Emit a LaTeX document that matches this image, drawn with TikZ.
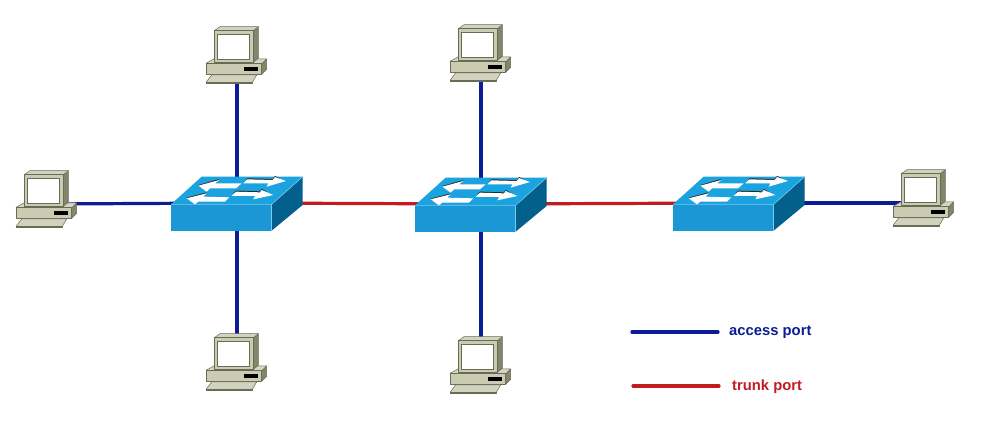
\documentclass[tikz,border=0pt]{standalone}
\usepackage{fontspec}
\setmainfont{Liberation Sans}
\definecolor{swtop}{HTML}{1BA3E0}
\definecolor{swfront}{HTML}{1B97D6}
\definecolor{swside}{HTML}{035F8C}
\definecolor{swedge}{HTML}{7CCBEE}
\definecolor{pcbody}{HTML}{C9CBB3}
\definecolor{pcside}{HTML}{83856C}
\definecolor{pcline}{HTML}{6A6B55}
\definecolor{acblue}{HTML}{0B1C94}
\definecolor{trred}{HTML}{C01C22}
\tikzset{
  x=1pt,y=-1pt,
  anchorpt/.style={inner sep=0pt,minimum size=0pt},
  access/.style={draw=acblue,line width=3.2pt},
  trunk/.style={draw=trred,line width=3.2pt},
  legendline/.style={line width=3.2pt,line cap=round},
  legendtext/.style={font=\bfseries\fontsize{14.8}{16}\selectfont,anchor=west,inner sep=0pt},
  swarrow/.style={fill=white,draw=none},
  swshadow/.style={fill=black!85,draw=none},
  pcpart/.style={draw=pcline,line width=.5pt,line join=round},
  switchicon/.pic={
    \begin{scope}[x=.33333pt,y=-.33333pt,xshift=-77pt,yshift=38pt]
      \fill[swtop] (33,118) -- (125,35) -- (428,35) -- (335,118) -- cycle;
      \fill[swfront] (33,118) rectangle (335,197);
      \fill[swside] (335,118) -- (428,35) -- (428,120) -- (335,197) -- cycle;
      \draw[swedge,line width=.6pt] (33,118) -- (335,118) -- (428,35);
      \draw[swedge,line width=.6pt] (335,118) -- (335,197);
      \fill[swshadow] (115,60) -- (178,42) -- (165,53) -- (120,66) -- cycle;
      \fill[swshadow] (262,40) -- (338,42) -- (345,33) -- (360,40) -- (338,48) -- (255,50) -- cycle;
      \fill[swshadow] (80,98) -- (140,82) -- (130,93) -- (85,104) -- cycle;
      \fill[swshadow] (228,77) -- (300,79) -- (305,72) -- (320,80) -- (300,85) -- (220,85) -- cycle;
      \fill[swarrow] (115,62) -- (178,45) -- (165,55) -- (245,55) -- (228,70) -- (150,70) -- (140,80) -- cycle;
      \fill[swarrow] (378,48) -- (345,36) -- (338,45) -- (262,43) -- (250,55) -- (325,55) -- (320,65) -- cycle;
      \fill[swarrow] (80,100) -- (140,85) -- (130,95) -- (208,97) -- (195,110) -- (115,110) -- (105,118) -- cycle;
      \fill[swarrow] (340,90) -- (305,75) -- (300,82) -- (228,80) -- (215,93) -- (285,93) -- (280,103) -- cycle;
    \end{scope}
  },
  pcicon/.pic={
    \begin{scope}[x=.33333pt,y=-.33333pt,xshift=-42pt,yshift=40pt]
      % base
      \filldraw[pcpart,fill=pcbody!80!white] (33,130) -- (60,115) -- (215,117) -- (200,132) -- cycle;
      \filldraw[pcpart,fill=pcbody] (33,130) rectangle (200,163);
      \filldraw[pcpart,fill=pcside] (200,132) -- (215,117) -- (215,148) -- (200,163) -- cycle;
      \fill[black] (148,142) rectangle (188,152);
      % keyboard
      \filldraw[pcpart,fill=pcbody!85!white] (33,187) -- (50,165) -- (185,165) -- (172,187) -- cycle;
      \filldraw[pcpart,fill=pcside] (33,187) rectangle (172,191);
      % monitor
      \filldraw[pcpart,fill=pcside] (175,32) -- (190,20) -- (190,115) -- (175,127) -- cycle;
      \filldraw[pcpart,fill=pcbody!85!white] (58,32) -- (75,20) -- (190,20) -- (175,32) -- cycle;
      \filldraw[pcpart,fill=pcbody] (58,32) rectangle (175,127);
      \filldraw[draw=pcline,line width=.4pt,fill=white] (68,42) rectangle (162,118);
    \end{scope}
  }
}
\begin{document}
\begin{tikzpicture}
  \useasboundingbox (0,0) rectangle (1005,427);
  \fill[white] (0,0) rectangle (1005,427);
  % device anchors
  \node[anchorpt] (s1) at (237,203) {};
  \node[anchorpt] (s2) at (481,204) {};
  \node[anchorpt] (s3) at (739,203) {};
  \node[anchorpt] (pcT1) at (237,60) {};
  \node[anchorpt] (pcT2) at (481,58) {};
  \node[anchorpt] (pcL) at (47,204) {};
  \node[anchorpt] (pcR) at (924,203) {};
  \node[anchorpt] (pcB1) at (237,367) {};
  \node[anchorpt] (pcB2) at (481,370) {};
  % connectors
  \draw[access] (pcT1) -- (s1);
  \draw[access] (pcB1) -- (s1);
  \draw[access] (pcL) -- (s1);
  \draw[access] (pcT2) -- (s2);
  \draw[access] (pcB2) -- (s2);
  \draw[access] (s3) -- (pcR);
  \draw[trunk] (s1) -- (s2);
  \draw[trunk] (s2) -- (s3);
  % icons
  \foreach \n in {s1,s2,s3} \pic at (\n) {switchicon};
  \foreach \n in {pcT1,pcT2,pcL,pcR,pcB1,pcB2} \pic at (\n) {pcicon};
  % legend
  \coordinate (la1) at (632,332);
  \coordinate (la2) at (718,332);
  \coordinate (lt1) at (633,386);
  \coordinate (lt2) at (719,386);
  \draw[legendline,acblue] (la1) -- (la2);
  \draw[legendline,trred] (lt1) -- (lt2);
  \node[legendtext,text=acblue] (accesslabel) at (729,332) {access port};
  \node[legendtext,text=trred] (trunklabel) at (732,387) {trunk port};
\end{tikzpicture}
\end{document}
